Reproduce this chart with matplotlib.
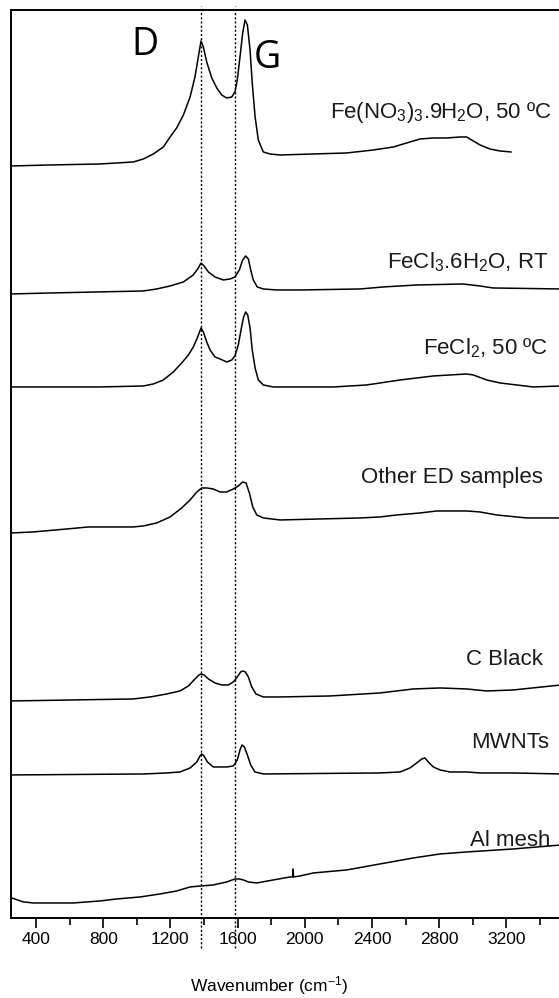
import matplotlib
matplotlib.use("Agg")
import matplotlib.pyplot as plt

plt.rcParams['font.family'] = ['Liberation Sans', 'DejaVu Sans']
plt.rcParams['mathtext.fontset'] = 'custom'
plt.rcParams['mathtext.rm'] = 'Liberation Sans'
plt.rcParams['mathtext.it'] = 'Liberation Sans'

# Raman spectra (wavenumber in cm-1, stacked intensity in a.u.)
fe_nitrate_x = [251, 483, 781, 979, 1039, 1098, 1158, 1198, 1237, 1277, 1317, 1346, 1366, 1382,
                1396, 1416, 1446, 1476, 1505, 1535, 1565, 1584, 1598, 1614, 1630, 1644, 1658,
                1674, 1687, 1704, 1723, 1753, 1793, 1852, 2050, 2249, 2408, 2527, 2606, 2686,
                2765, 2844, 2924, 2963, 2993, 3043, 3102, 3162, 3227]
fe_nitrate_y = [752, 753, 754, 756, 759, 764, 771, 781, 790, 803, 821, 841, 861, 877,
                871, 856, 840, 830, 823, 820, 821, 826, 838, 861, 885, 898, 893,
                868, 835, 801, 778, 766, 764, 763, 764, 765, 768, 771, 775, 779,
                780, 780, 781, 781, 778, 773, 769, 767, 766]

fecl3_x = [251, 483, 1039, 1118, 1198, 1277, 1336, 1366, 1382, 1400, 1426, 1465, 1515, 1555,
           1584, 1610, 1630, 1648, 1664, 1678, 1693, 1717, 1753, 1833, 1971, 2328, 2465,
           2668, 2942, 3043, 3120, 3525]
fecl3_y = [624, 625, 627, 629, 632, 636, 643, 650, 655, 652, 646, 641, 638, 639,
           641, 648, 658, 662, 659, 648, 638, 631, 629, 628, 628, 629, 631,
           633, 634, 632, 630, 629]

fecl2_x = [251, 781, 1039, 1098, 1158, 1217, 1267, 1307, 1336, 1360, 1382, 1396, 1416, 1436,
           1465, 1495, 1535, 1565, 1584, 1604, 1618, 1634, 1648, 1660, 1674, 1687, 1704,
           1723, 1753, 1812, 1971, 2170, 2368, 2567, 2765, 2963, 3003, 3083, 3162, 3360, 3525]
fecl2_y = [531, 531, 532, 534, 538, 546, 555, 563, 571, 580, 590, 586, 576, 568,
           561, 559, 556, 558, 562, 573, 586, 600, 606, 603, 590, 568, 550,
           538, 533, 531, 531, 531, 533, 538, 542, 544, 543, 538, 535, 531, 532]

other_x = [251, 382, 583, 711, 977, 1039, 1118, 1198, 1267, 1317, 1357, 1386, 1416, 1455,
           1495, 1535, 1574, 1604, 1630, 1650, 1670, 1690, 1714, 1753, 1852, 2090, 2328,
           2447, 2547, 2686, 2785, 2963, 3043, 3142, 3321, 3525]
other_y = [385, 386, 389, 391, 391, 392, 395, 401, 410, 418, 426, 430, 430, 429,
           426, 426, 429, 432, 436, 435, 425, 411, 403, 400, 398, 399, 400,
           401, 403, 405, 407, 407, 406, 403, 400, 400]

cblack_x = [251, 979, 1079, 1178, 1257, 1307, 1346, 1370, 1382, 1400, 1426, 1465, 1505, 1545,
            1574, 1598, 1618, 1630, 1646, 1664, 1684, 1709, 1753, 1852, 2150, 2447, 2646,
            2805, 2963, 3083, 3241, 3525]
cblack_y = [217, 219, 221, 224, 227, 232, 239, 243, 244, 243, 239, 235, 233, 233,
            236, 241, 246, 247, 246, 241, 231, 224, 221, 221, 222, 225, 229,
            230, 229, 227, 228, 233]

mwnt_x = [251, 1039, 1178, 1257, 1317, 1357, 1376, 1386, 1400, 1420, 1455, 1535, 1574, 1598,
          1614, 1626, 1640, 1658, 1678, 1703, 1753, 2447, 2567, 2626, 2666, 2696, 2715,
          2735, 2765, 2805, 2864, 2963, 3043, 3241, 3525]
mwnt_y = [143, 144, 145, 146, 150, 156, 162, 164, 162, 156, 151, 151, 152, 158,
          168, 173, 171, 163, 153, 146, 144, 145, 146, 150, 155, 159, 160,
          156, 151, 148, 146, 146, 145, 145, 144]

al_x = [255, 325, 384, 622, 781, 880, 1019, 1138, 1237, 1317, 1382, 1455, 1535, 1584,
        1610, 1634, 1664, 1714, 1812, 1912, 1927, 1930, 1933, 1971, 2050, 2249, 2447,
        2646, 2805, 2963, 3241, 3525]
al_y = [20, 16, 15, 15, 17, 19, 21, 24, 27, 31, 32, 33, 36, 39,
        39, 38, 36, 35, 38, 41, 41, 49, 41, 42, 45, 48, 54,
        60, 64, 66, 69, 73]

spectra = [(fe_nitrate_x, fe_nitrate_y), (fecl3_x, fecl3_y), (fecl2_x, fecl2_y),
           (other_x, other_y), (cblack_x, cblack_y), (mwnt_x, mwnt_y), (al_x, al_y)]

labels = ['Fe(NO$_3$)$_3$.9H$_2$O, 50 \u00baC', 'FeCl$_3$.6H$_2$O, RT', 'FeCl$_2$, 50 \u00baC',
          'Other ED samples', 'C Black', 'MWNTs', 'Al mesh']
label_x = [3471, 3447, 3447, 3418, 3418, 3453, 3459]
label_y = [800, 650, 564, 435, 253, 170, 72]

band_pos = [1382, 1584]
band_names = ['D', 'G']
band_name_x = [1049, 1775]
band_name_y = [863, 850]

fig = plt.figure(figsize=(5.59, 9.98), dpi=100)
ax = fig.add_axes([0.0197, 0.0802, 0.9839, 0.9098])

for x, y in spectra:
    ax.plot(x, y, color='black', lw=1.1)

# lineas de referencia D y G
for p in band_pos:
    ax.axvline(p, ymin=-0.033, ymax=1.004, color='black', lw=1.0,
               linestyle=(0, (1.5, 1.5)), clip_on=False)

for t, xx, yy in zip(band_names, band_name_x, band_name_y):
    ax.text(xx, yy, t, fontsize=27, family=['Open Sans', 'DejaVu Sans'],
            ha='center', va='baseline')

for t, xx, yy in zip(labels, label_x, label_y):
    ax.text(xx, yy, t, fontsize=16, ha='right', va='baseline', color='#1a1a1a')

ax.set_xlim(251, 3525)
ax.set_ylim(0, 908)
ax.set_xticks([400, 800, 1200, 1600, 2000, 2400, 2800, 3200])
ax.set_xticks(range(600, 3500, 400), minor=True)
ax.set_yticks([])
ax.tick_params(axis='x', which='major', direction='out', length=7, width=1.2,
               labelsize=12.5, pad=3)
ax.tick_params(axis='x', which='minor', direction='out', length=5, width=1.2)
for s in ax.spines.values():
    s.set_linewidth(1.4)

ax.set_xlabel('Wavenumber (cm$^{-1}$)', fontsize=12.5)
ax.xaxis.set_label_coords(0.47, -0.0805)
ax.xaxis.label.set_va('baseline')

fig.savefig('out.png', dpi=100)
